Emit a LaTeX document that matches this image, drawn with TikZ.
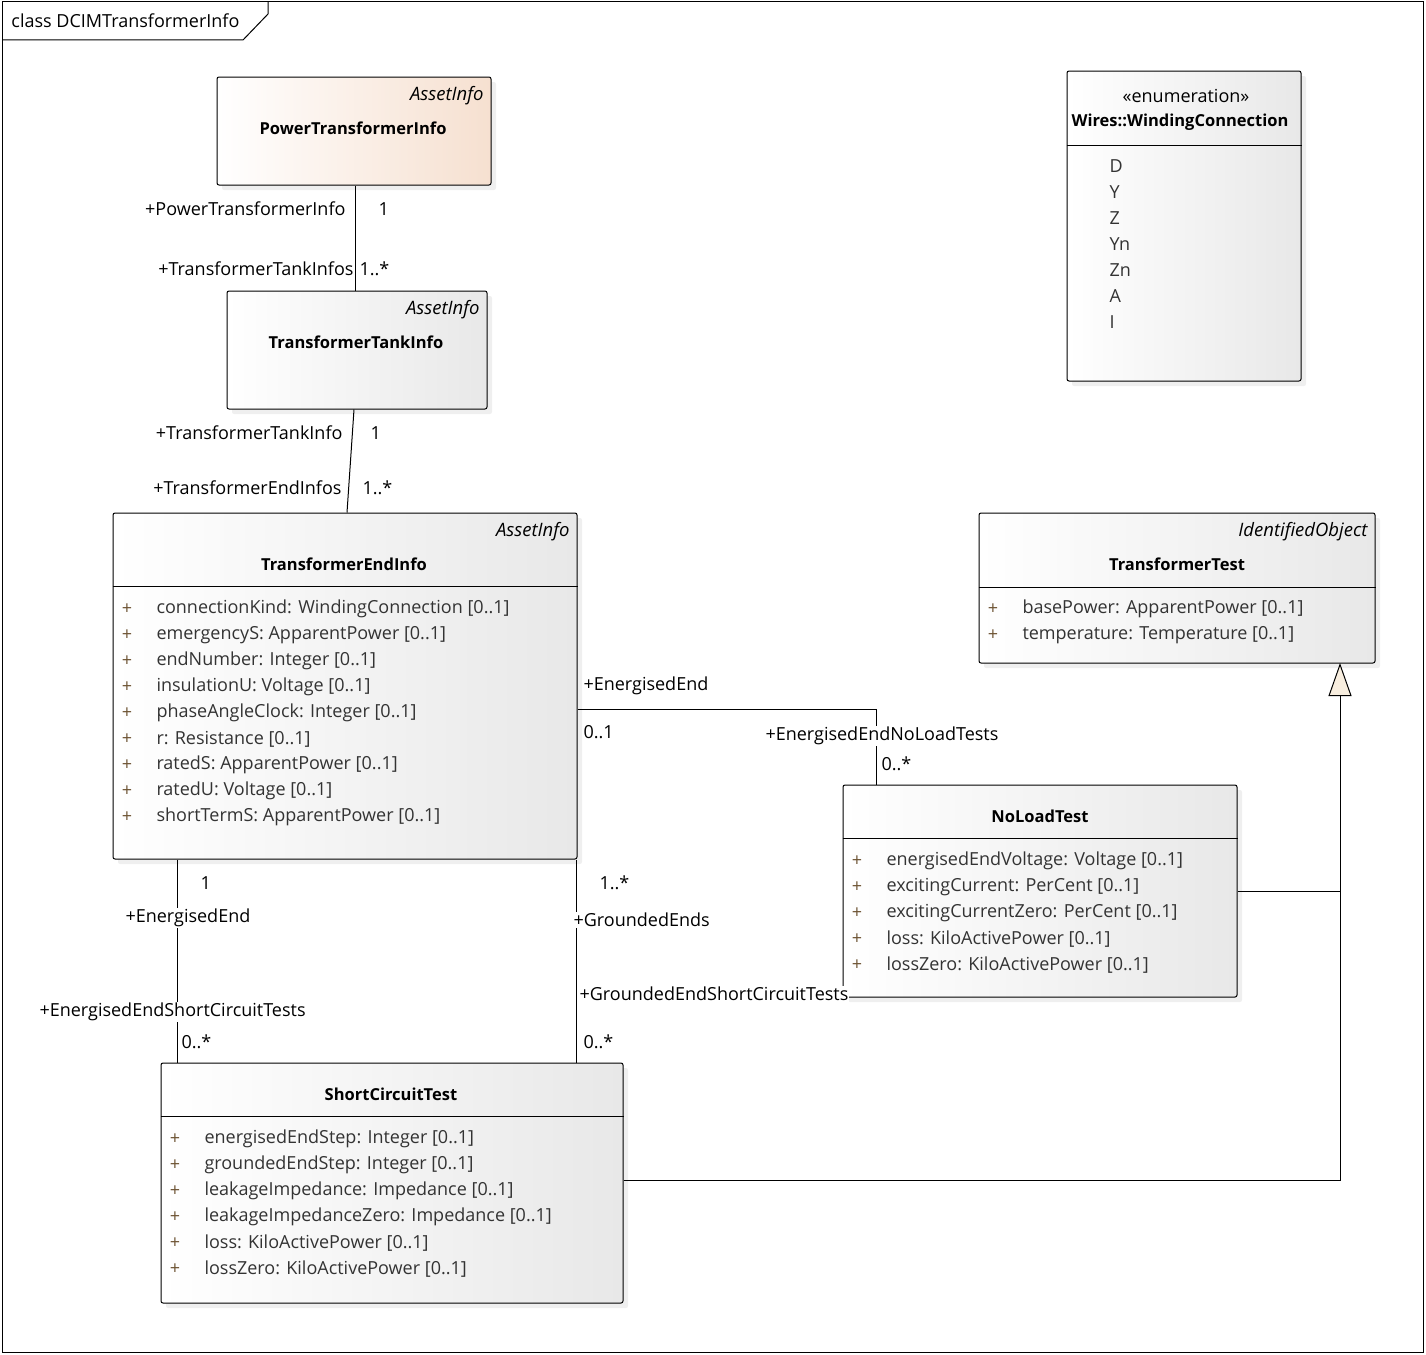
\documentclass[tikz,border=0pt]{standalone}
\usepackage{fontspec}
\setmainfont{Open Sans}
\usetikzlibrary{arrows.meta, shadows}
\definecolor{mText}{HTML}{333333}
\definecolor{mPlus}{HTML}{6E5434}
\definecolor{mBox}{HTML}{E8E8E8}
\definecolor{mPeach}{HTML}{F6E0D0}
\definecolor{mTri}{HTML}{F8EEDF}
\begin{document}
\begin{tikzpicture}[x=1pt, y=-1pt, line width=1pt,
    every node/.style={font=\fontsize{18}{21}\selectfont, inner sep=1pt},
    cls/.style={draw, rounded corners=2pt, left color=white, right color=mBox,
      drop shadow={shadow xshift=5pt, shadow yshift=-5pt, fill=black!12}},
    attr/.style={anchor=west, text=mText},
    plus/.style={text=mPlus},
    lbl/.style={anchor=west, fill=white},
    nm/.style={font=\fontsize{16.5}{20}\selectfont\bfseries},
    st/.style={anchor=east, font=\fontsize{18.5}{21}\selectfont\itshape}]
    \useasboundingbox (0,0) rectangle (1426,1354);
    % frame
    \draw (2,2) rectangle (1423,1352);
    \draw (2,40) -- (243,40) -- (268,14) -- (268,2);
    \node[anchor=west] (frm) at (10,21) {class DCIMTransformerInfo};

    % PowerTransformerInfo
    \node[cls, right color=mPeach, minimum width=274pt, minimum height=108pt] (pti) at (354,131) {};
    \node[st] (pti-st) at (485,96) {AssetInfo};
    \node[nm] (pti-nm) at (353,128) {PowerTransformerInfo};

    % TransformerTankInfo
    \node[cls, minimum width=260pt, minimum height=118pt] (tti) at (357,350) {};
    \node[st] (tti-st) at (481,310) {AssetInfo};
    \node[nm] (tti-nm) at (356,342) {TransformerTankInfo};

    % WindingConnection enumeration
    \node[cls, minimum width=234pt, minimum height=310pt] (wc) at (1184,226) {};
    \node (wc-st) at (1186,96) {«enumeration»};
    \node[nm] (wc-nm) at (1180,122) {Wires::WindingConnection};
    \draw (wc.west |- 0,145) -- (wc.east |- 0,145);
    \foreach \v [count=\i from 0] in {D, Y, Z, Yn, Zn, A, I} {
      \node[attr] (wc-v\i) at (1108,166+26*\i) {\v};
    }

    % TransformerEndInfo
    \node[cls, minimum width=464pt, minimum height=346pt] (tei) at (345,686) {};
    \node[st] (tei-st) at (571,532) {AssetInfo};
    \node[nm] (tei-nm) at (344,564) {TransformerEndInfo};
    \draw (tei.west |- 0,586) -- (tei.east |- 0,586);
    \foreach \a [count=\i from 0] in
      {connectionKind: WindingConnection [0..1], emergencyS: ApparentPower [0..1],
       endNumber: Integer [0..1], insulationU: Voltage [0..1],
       phaseAngleClock: Integer [0..1], r: Resistance [0..1],
       ratedS: ApparentPower [0..1], ratedU: Voltage [0..1],
       shortTermS: ApparentPower [0..1]} {
      \node[plus] (tei-p\i) at (127,609+26*\i) {+};
      \node[attr] (tei-a\i) at (155,609+26*\i) {\a};
    }

    % TransformerTest
    \node[cls, minimum width=396pt, minimum height=150pt] (tt) at (1177,588) {};
    \node[st] (tt-st) at (1369,532) {IdentifiedObject};
    \node[nm] (tt-nm) at (1177,564) {TransformerTest};
    \draw (tt.west |- 0,587) -- (tt.east |- 0,587);
    \foreach \a [count=\i from 0] in
      {basePower: ApparentPower [0..1], temperature: Temperature [0..1]} {
      \node[plus] (tt-p\i) at (993,609+26*\i) {+};
      \node[attr] (tt-a\i) at (1021,609+26*\i) {\a};
    }

    % NoLoadTest
    \node[cls, minimum width=394pt, minimum height=212pt] (nlt) at (1040,891) {};
    \node[nm] (nlt-nm) at (1040,816) {NoLoadTest};
    \draw (nlt.west |- 0,838) -- (nlt.east |- 0,838);
    \foreach \a [count=\i from 0] in
      {energisedEndVoltage: Voltage [0..1], excitingCurrent: PerCent [0..1],
       excitingCurrentZero: PerCent [0..1], loss: KiloActivePower [0..1],
       lossZero: KiloActivePower [0..1]} {
      \node[plus] (nlt-p\i) at (857,861+26*\i) {+};
      \node[attr] (nlt-a\i) at (885,861+26*\i) {\a};
    }

    % ShortCircuitTest
    \node[cls, minimum width=462pt, minimum height=240pt] (sct) at (392,1183) {};
    \node[nm] (sct-nm) at (391,1094) {ShortCircuitTest};
    \draw (sct.west |- 0,1116) -- (sct.east |- 0,1116);
    \foreach \a [count=\i from 0] in
      {energisedEndStep: Integer [0..1], groundedEndStep: Integer [0..1],
       leakageImpedance: Impedance [0..1], leakageImpedanceZero: Impedance [0..1],
       loss: KiloActivePower [0..1], lossZero: KiloActivePower [0..1]} {
      \node[plus] (sct-p\i) at (175,1139+26*\i) {+};
      \node[attr] (sct-a\i) at (203,1139+26*\i) {\a};
    }

    % associations
    \draw (355,0 |- pti.south) -- (355,0 |- tti.north);
    \node[lbl, anchor=east] (l1) at (347,209) {+PowerTransformerInfo};
    \node[lbl] (l2) at (377,209) {1};
    \node[lbl, anchor=east] (l3) at (355,269) {+TransformerTankInfos};
    \node[lbl] (l4) at (358,269) {1..*};

    \draw (354,0 |- tti.south) -- (347,0 |- tei.north);
    \node[lbl, anchor=east] (l5) at (344,433) {+TransformerTankInfo};
    \node[lbl] (l6) at (369,433) {1};
    \node[lbl, anchor=east] (l7) at (343,488) {+TransformerEndInfos};
    \node[lbl] (l8) at (361,488) {1..*};

    \draw (tei.east |- 0,709) -| (876,0 |- nlt.north);
    \node[lbl] (l9) at (582,686) {+EnergisedEnd};
    \node[lbl] (l10) at (582,732) {0..1};
    \node[lbl] (l11) at (764,736) {+EnergisedEndNoLoadTests};
    \node[lbl] (l12) at (880,764) {0..*};

    \draw (177,0 |- tei.south) -- (177,0 |- sct.north);
    \node[lbl] (l13) at (199,883) {1};
    \node[lbl] (l14) at (124,918) {+EnergisedEnd};
    \node[lbl] (l15) at (38,1012) {+EnergisedEndShortCircuitTests};
    \node[lbl] (l16) at (180,1042) {0..*};

    \draw (576,0 |- tei.south) -- (576,0 |- sct.north);
    \node[lbl] (l17) at (598,883) {1..*};
    \node[lbl] (l18) at (572,920) {+GroundedEnds};
    \node[lbl] (l19) at (578,994) {+GroundedEndShortCircuitTests};
    \node[lbl] (l20) at (582,1042) {0..*};

    % generalisation
    \coordinate (gjoin) at (1340,891);
    \coordinate (gtip) at (1340,663);
    \draw[-{Triangle[width=23pt, length=33pt, fill=mTri]}] (nlt.east) -- (gjoin) -- (gtip);
    \draw (sct.east |- 0,1180) -| (gjoin);
  \end{tikzpicture}
\end{document}
